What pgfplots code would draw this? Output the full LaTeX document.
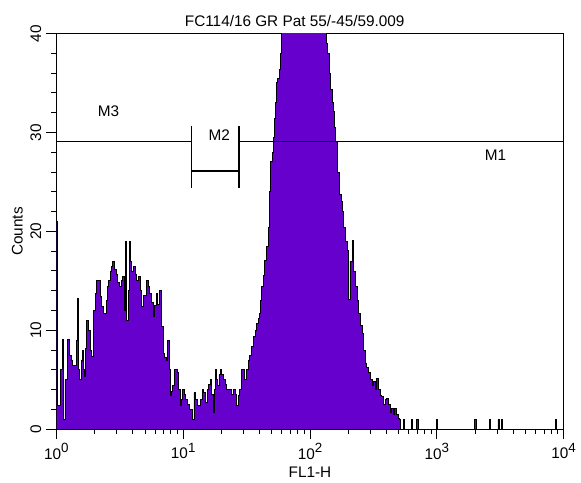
\documentclass[border=0pt]{standalone}
\usepackage{fontspec}
\setmainfont{Liberation Sans}
\usepackage{pgfplots}
\pgfplotsset{compat=1.18}
\definecolor{histfill}{RGB}{102,0,204}
\newcommand{\fnt}{\fontsize{15.5}{18}\selectfont}
\newcommand{\supx}[1]{\raisebox{7pt}{\fontsize{13.5}{14}\selectfont #1}}
\begin{document}
\fnt
\begin{tikzpicture}
\begin{axis}[
  scale only axis, width=513pt, height=400pt,
  xmin=0, xmax=4, ymin=0, ymax=40,
  xtick={0,1,2,3,4},
  xticklabels={10\supx{0},10\supx{1},10\supx{2},10\supx{3},10\supx{4}},
  minor xtick={0.301,0.477,0.602,0.699,0.778,0.845,0.903,0.954,
               1.301,1.477,1.602,1.699,1.778,1.845,1.903,1.954,
               2.301,2.477,2.602,2.699,2.778,2.845,2.903,2.954,
               3.301,3.477,3.602,3.699,3.778,3.845,3.903,3.954},
  ytick={0,10,20,30,40},
  minor y tick num=4,
  tick align=outside,
  xtick pos=bottom, ytick pos=left,
  major tick length=10pt, minor tick length=5pt,
  every tick/.style={black, line width=1pt},
  axis line style={line width=1.2pt},
  /pgf/number format/assume math mode=true,
  tick label style={font=\fnt},
  yticklabel style={rotate=90, anchor=south},
  yticklabel shift=0pt,
  xticklabel shift=-1.5pt,
  label style={font=\fnt},
  xlabel={FL1-H},
  xlabel style={at={(axis description cs:0.5,0)}, anchor=base, yshift=-49pt},
  ylabel={Counts},
  ylabel style={at={(axis description cs:-0.0663,0.5)}, anchor=base},
  clip=true,
]
\addplot[const plot, fill=histfill, draw=black, line width=0.8pt] coordinates {
(0.000,21) (0.006,2.4) (0.030,6) (0.045,9.1) (0.052,4) (0.059,1) (0.068,5) (0.078,5)
(0.090,9.1) (0.100,7.5) (0.116,7) (0.130,6.4) (0.142,6.4) (0.155,9) (0.168,13.2) (0.175,6)
(0.181,5) (0.195,7) (0.207,8) (0.215,6) (0.222,5.3) (0.230,8.2) (0.238,11) (0.250,10)
(0.258,10) (0.268,8) (0.279,7.4) (0.292,12) (0.305,13.7) (0.318,15) (0.331,15) (0.345,13.4)
(0.357,12.4) (0.370,11.7) (0.382,11.7) (0.392,13) (0.401,14.4) (0.414,15) (0.426,16) (0.436,16.5)
(0.444,17) (0.458,16.2) (0.470,15.7) (0.484,14.8) (0.496,14.4) (0.510,15) (0.522,15.4) (0.535,12)
(0.543,19) (0.550,16) (0.556,11) (0.566,14) (0.576,19) (0.586,17) (0.594,16) (0.607,16.5)
(0.620,15.7) (0.633,15) (0.646,15.4) (0.660,14) (0.672,12.4) (0.690,13.5) (0.711,15) (0.724,14.4)
(0.736,13.7) (0.750,12.8) (0.762,11.4) (0.775,12.5) (0.788,13.7) (0.800,12.6) (0.814,14) (0.827,10.4)
(0.840,7.7) (0.853,7.3) (0.866,7) (0.879,9) (0.889,6) (0.899,3.4) (0.908,3.8) (0.917,4.4)
(0.930,6) (0.943,6) (0.956,5.7) (0.966,4) (0.977,2.4) (0.986,3) (0.995,4) (1.008,3.5)
(1.021,3) (1.034,2.5) (1.047,2) (1.060,2) (1.072,1) (1.085,3.7) (1.098,3) (1.111,2.4)
(1.124,2.4) (1.137,3) (1.150,4) (1.163,3.7) (1.176,2.7) (1.189,4) (1.202,4.5) (1.214,5)
(1.225,3.5) (1.235,1.7) (1.245,4) (1.253,6) (1.262,5) (1.271,4.4) (1.282,5.5) (1.292,6)
(1.305,5.5) (1.318,5) (1.331,4.5) (1.344,4) (1.357,4) (1.370,4) (1.383,3.5) (1.395,4)
(1.408,3.5) (1.421,2.4) (1.434,3.4) (1.447,4) (1.460,6) (1.473,6) (1.486,5) (1.499,6)
(1.512,7) (1.525,7.5) (1.541,8.4) (1.554,9.4) (1.567,10) (1.580,10.7) (1.591,11.2) (1.601,11.7)
(1.610,13) (1.619,14.4) (1.632,15.5) (1.644,17.1) (1.658,18.5) (1.671,20.4) (1.681,24) (1.691,27.1)
(1.702,28) (1.712,29.5) (1.718,31.4) (1.727,33) (1.735,35.1) (1.745,35.5) (1.756,36.4) (1.765,38)
(1.774,45) (2.125,45) (2.130,39) (2.138,38) (2.150,36) (2.163,34.4) (2.175,33) (2.184,32.1)
(2.194,30.5) (2.202,29.1) (2.215,26) (2.228,23.7) (2.245,23) (2.257,22) (2.267,20.4) (2.280,19)
(2.293,18.1) (2.301,13.1) (2.315,17) (2.332,19.1) (2.345,16) (2.358,14.4) (2.371,13) (2.384,11.7)
(2.397,10.5) (2.410,9.7) (2.423,8) (2.436,6.7) (2.448,6.2) (2.461,5.7) (2.475,5) (2.488,4.4)
(2.500,4.8) (2.514,4) (2.527,5.1) (2.540,4) (2.553,3.4) (2.566,3.3) (2.579,2.5) (2.592,3)
(2.605,3.1) (2.617,2.5) (2.630,1.7) (2.643,2.1) (2.656,1.5) (2.669,2.1) (2.682,1.5) (2.695,1.1)
(2.708,1) (2.716,0) (2.734,1) (2.744,0) (2.800,1) (2.810,0) (2.842,1) (2.852,0)
(2.994,1) (3.004,0) (3.298,1) (3.312,0) (3.412,1) (3.422,0) (3.482,1) (3.490,0)
(3.508,1) (3.518,0) (3.936,1) (3.946,0) (4.000,0)
} \closedcycle;
% markers
\addplot[black, line width=1.2pt] coordinates {(0,29.1) (1.066,29.1)};
\addplot[black, line width=1.2pt] coordinates {(1.440,29.1) (4,29.1)};
\addplot[black, line width=1.2pt] coordinates {(1.066,30.7) (1.066,24.4)};
\addplot[black, line width=1.2pt] coordinates {(1.440,30.7) (1.440,24.4)};
\addplot[black, line width=1.2pt] coordinates {(1.066,26.1) (1.440,26.1)};
\node[font=\fnt] at (axis cs:0.412,32.2) {M3};
\node[font=\fnt] at (axis cs:1.284,29.7) {M2};
\node[font=\fnt] at (axis cs:3.463,27.7) {M1};
\end{axis}
\node[anchor=base, inner sep=0pt, font=\fnt]
  at ([shift={(-15.5pt,7pt)}]current axis.north) {FC114/16 GR Pat 55/-45/59.009};
\path ([shift={(-57pt,-53pt)}]current axis.south west) rectangle ([shift={(11pt,34pt)}]current axis.north east);
\end{tikzpicture}
\end{document}
